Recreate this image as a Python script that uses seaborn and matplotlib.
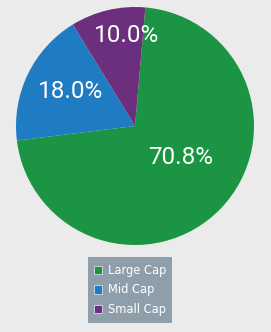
import matplotlib
matplotlib.use("Agg")
import matplotlib.pyplot as plt
import seaborn as sns
import numpy as np

categories = ["Large Cap", "Mid Cap", "Small Cap"]
values = [70.8, 18.0, 10.0]
pct_labels = ["70.8%", "18.0%", "10.0%"]

colors = sns.color_palette(["#1b9444", "#1f7cc2", "#6c2f7d"])
bg = "#ebebeb"

sns.set_style("white")
plt.rcParams["font.family"] = ["DejaVu Sans"]

fig = plt.figure(figsize=(2.71, 3.32), dpi=100, facecolor=bg)
W, H = 271, 332
cx, cy, r = 135, 126, 119
ax = fig.add_axes([(cx - r) / W, (H - cy - r) / H, 2 * r / W, 2 * r / H])
ax.set_facecolor(bg)

wedges, _ = ax.pie(values, colors=colors, startangle=85, counterclock=False,
                   radius=1, wedgeprops=dict(linewidth=0))
ax.set_xlim(-1, 1)
ax.set_ylim(-1, 1)
ax.set_aspect("equal")
ax.axis("off")

# label pixel centres
label_px = [(181, 157), (71, 91), (127, 35)]
for lab, (px, py) in zip(pct_labels, label_px):
    x = (px - cx) / r
    y = (cy - py) / r
    ax.text(x, y, lab, ha="center", va="center", color="white",
            fontsize=17.5, family=["Roboto", "DejaVu Sans"])

handles = [plt.Rectangle((0, 0), 1, 1, facecolor=c, edgecolor="#dddddd", linewidth=0.6)
           for c in colors]
leg = fig.legend(handles, categories, loc="center",
                 bbox_to_anchor=(130 / W, (H - 290) / H),
                 frameon=True, fancybox=False, fontsize=8.3,
                 handlelength=0.7, handleheight=0.7, handletextpad=0.5,
                 labelspacing=0.6, borderpad=0.55, labelcolor="white")
leg.get_frame().set_facecolor("#8e9fab")
leg.get_frame().set_edgecolor("none")
leg.get_frame().set_alpha(1)

fig.savefig("out.png", dpi=100, facecolor=bg)
